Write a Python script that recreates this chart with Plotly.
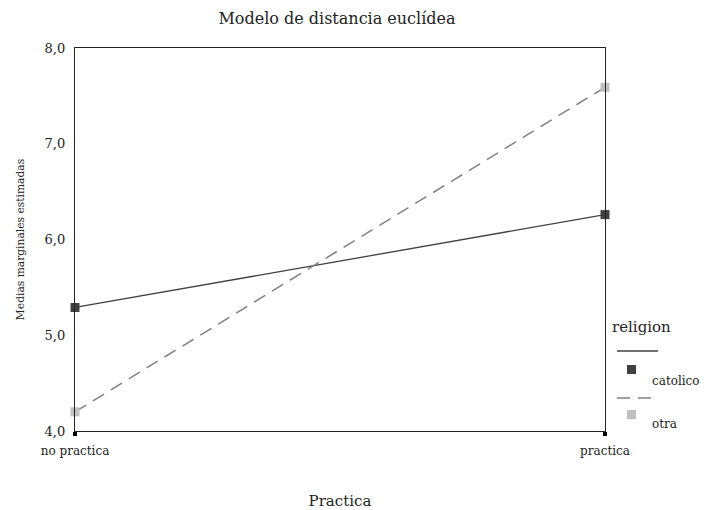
import plotly.graph_objects as go

categories = ["no practica", "practica"]
catolico = [5.29, 6.26]
otra = [4.20, 7.59]
y_ticks = [4.0, 5.0, 6.0, 7.0, 8.0]
y_tick_labels = ["4,0", "5,0", "6,0", "7,0", "8,0"]
series_names = ["catolico", "otra"]

FONT = "DejaVu Serif"
L, R, T, B = 75, 605, 48, 431
W, H = 706, 510

def px(x):
    return (x - L) / (R - L)

def py(y):
    return (B - y) / (B - T)

xs = list(range(len(categories)))

fig = go.Figure()
fig.add_trace(go.Scatter(x=xs, y=catolico, mode="lines+markers", name=series_names[0],
                         line=dict(color="#404040", width=1.3),
                         marker=dict(symbol="square", size=9, color="#404040"),
                         cliponaxis=False, showlegend=False))
fig.add_trace(go.Scatter(x=xs, y=otra, mode="lines+markers", name=series_names[1],
                         line=dict(color="#808080", width=1.5, dash="13px,8px"),
                         marker=dict(symbol="square", size=9, color="#c0c0c0"),
                         cliponaxis=False, showlegend=False))

shapes = []
annotations = []
# legend
annotations.append(dict(x=px(610), y=py(327), xref="paper", yref="paper", text="religion",
                        showarrow=False, xanchor="left", yanchor="middle",
                        font=dict(family=FONT, size=15, color="#222")))
shapes.append(dict(type="line", xref="paper", yref="paper", x0=px(617), x1=px(658),
                   y0=py(351), y1=py(351), line=dict(color="#404040", width=1.3)))
shapes.append(dict(type="rect", xref="paper", yref="paper", x0=px(627), x1=px(636),
                   y0=py(374), y1=py(365), fillcolor="#404040", line=dict(width=0)))
annotations.append(dict(x=px(650), y=py(381), xref="paper", yref="paper", text=series_names[0],
                        showarrow=False, xanchor="left", yanchor="middle",
                        font=dict(family=FONT, size=12, color="#222")))
shapes.append(dict(type="line", xref="paper", yref="paper", x0=px(617), x1=px(658),
                   y0=py(398), y1=py(398), line=dict(color="#808080", width=1.3, dash="13px,8px")))
shapes.append(dict(type="rect", xref="paper", yref="paper", x0=px(627), x1=px(636),
                   y0=py(419), y1=py(410), fillcolor="#c0c0c0", line=dict(width=0)))
annotations.append(dict(x=px(650), y=py(424), xref="paper", yref="paper", text=series_names[1],
                        showarrow=False, xanchor="left", yanchor="middle",
                        font=dict(family=FONT, size=12, color="#222")))

fig.update_layout(
    width=W, height=H,
    margin=dict(l=L, r=W - R, t=T, b=H - B),
    plot_bgcolor="white", paper_bgcolor="white",
    font=dict(family=FONT, color="#222"),
    title=dict(text="Modelo de distancia euclídea", xref="paper", x=px(337), xanchor="center",
               y=1 - 18 / H, yanchor="middle", font=dict(family=FONT, size=16, color="#222")),
    shapes=shapes, annotations=annotations,
    xaxis=dict(range=[0, 1], tickvals=xs, ticktext=categories, showgrid=False, zeroline=False,
               showline=True, linecolor="#222", linewidth=1.3, mirror=True, automargin=False,
               ticks="outside", ticklen=4, tickwidth=4, tickcolor="black",
               ticklabelstandoff=4,
               tickfont=dict(family=FONT, size=12),
               title=dict(text="Practica", font=dict(family=FONT, size=15), standoff=38)),
    yaxis=dict(range=[4, 8], tickvals=y_ticks, ticktext=y_tick_labels, showgrid=False, zeroline=False,
               showline=True, linecolor="#222", linewidth=1.3, mirror=True, ticks="", automargin=False,
               ticklabelstandoff=6,
               tickfont=dict(family=FONT, size=13),
               title=dict(text="Medias marginales estimadas", font=dict(family=FONT, size=10.7), standoff=17)),
)

fig.write_html("out.html", config={"displayModeBar": False},
               post_script="document.body.style.margin='0';")
